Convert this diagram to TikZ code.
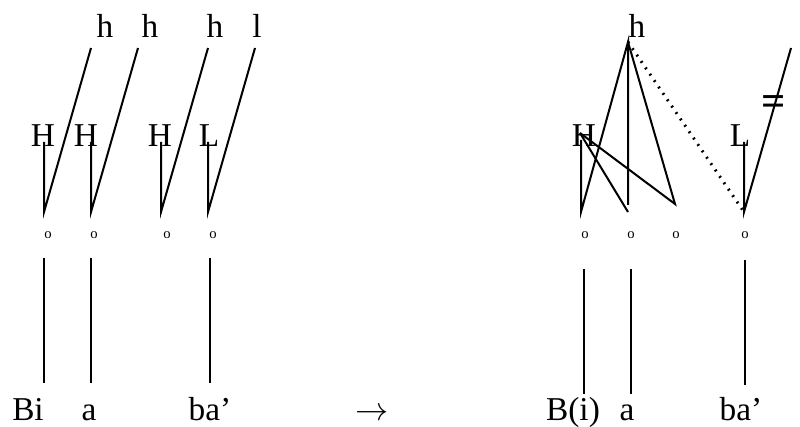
\documentclass[tikz,border=0pt]{standalone}
\usepackage{fontspec}
\setmainfont{Liberation Serif}
\begin{document}
\begin{tikzpicture}[x=0.75pt,y=-0.75pt,line width=1.5pt,
  tone/.style={font=\fontsize{25}{28}\selectfont,inner sep=0,anchor=base},
  mora/.style={font=\fontsize{11}{12}\selectfont,inner sep=0,anchor=base},
  seg/.style={line width=1pt},
  delink/.style={line width=2.2pt,dash pattern=on 1.4pt off 4.4pt}]
\useasboundingbox (0,0) rectangle (800,427);
% left form
\foreach \x/\t [count=\i] in {105/h,150/h,215/h,257/l}\node[tone](lh\i)at(\x,38){\t};
\foreach \x/\t [count=\i] in {43/H,86/H,160/H,209/L}\node[tone](lH\i)at(\x,147){\t};
\foreach \x [count=\i] in {44,91,161,208}{\coordinate(lm\i)at(\x,142);\coordinate(lb\i)at(\x,212);\coordinate(lt\i)at(\x+47,48);}
\foreach \i in {1,...,4}\draw(lm\i)--(lb\i)--(lt\i);
\foreach \x [count=\i] in {48,94,167,213}\node[mora](lo\i)at(\x,239){o};
\foreach \x [count=\i] in {44,91,210}{\coordinate(ls\i)at(\x,258);\coordinate(le\i)at(\x,383);\draw[seg](ls\i)--(le\i);}
\node[tone](w1)at(28,421){Bi};\node[tone](w2)at(89,421){a};\node[tone](w3)at(210,421){ba’};
\node[tone](arr)at(372,421){$\rightarrow$};
% right form
\node[tone](rh)at(637,38){h};\coordinate(apex)at(628,42);
\node[tone](rH)at(584,147){H};\coordinate(hv)at(580,133);
\node[tone](rL)at(740,147){L};
\coordinate(rm1)at(581,140);\coordinate(rb1)at(581,212);
\coordinate(rb2)at(628,212);\coordinate(rv2)at(628,205);
\coordinate(rb3)at(675,204);
\coordinate(rm4)at(744,142);\coordinate(rb4)at(744,212);\coordinate(rt4)at(791,48);
\draw(rm1)--(rb1)--(apex)--(rv2);
\draw(hv)--(rb2);\draw(hv)--(rb3)--(apex);
\draw[delink](apex)--(rb4);
\draw(rm4)--(rb4)--(rt4);
\node[font=\fontsize{32}{34}\selectfont\bfseries,inner sep=0,anchor=center](neq)at(774,106){=};
\foreach \x [count=\i] in {585,631,676,745}\node[mora](ro\i)at(\x,239){o};
\foreach \x/\a/\b [count=\i] in {584/269/394,631/269/394,745/260/385}{\coordinate(rs\i)at(\x,\a);\coordinate(re\i)at(\x,\b);\draw[seg](rs\i)--(re\i);}
\node[tone](v1)at(573,421){B(i)};\node[tone](v2)at(627,421){a};\node[tone](v3)at(741,421){ba’};
\end{tikzpicture}
\end{document}
